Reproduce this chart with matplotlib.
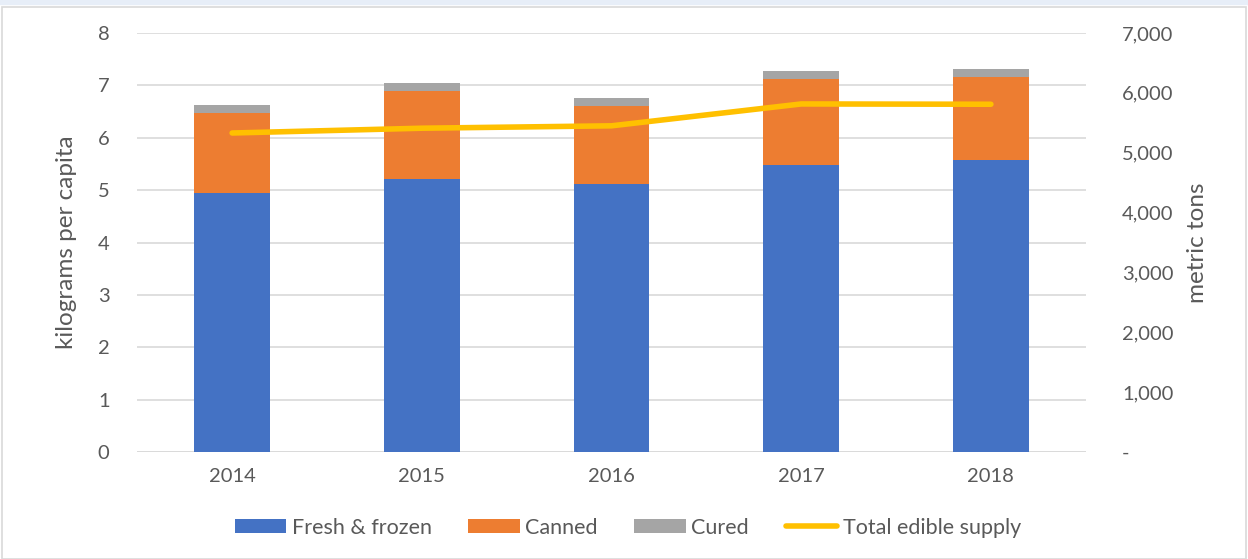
import numpy as np
import matplotlib.pyplot as plt
from matplotlib.ticker import FuncFormatter

plt.rcParams['font.family'] = ['Lato', 'DejaVu Sans']

years = ["2014", "2015", "2016", "2017", "2018"]
fresh_frozen = [4.94, 5.21, 5.11, 5.48, 5.57]
canned = [1.53, 1.68, 1.49, 1.64, 1.59]
cured = [0.15, 0.15, 0.16, 0.15, 0.15]
total_supply = [5330, 5410, 5450, 5815, 5810]

text_col = "#595959"
grid_col = "#d9d9d9"

fig = plt.figure(figsize=(12.48, 5.59), dpi=100)
ax = fig.add_axes([0.11, 0.191, 0.76, 0.75])
ax2 = ax.twinx()

x = np.arange(len(years))
w = 0.4
ax.bar(x, fresh_frozen, w, color="#4472c4", label="Fresh & frozen", zorder=2)
ax.bar(x, canned, w, bottom=fresh_frozen, color="#ed7d31", label="Canned", zorder=2)
bottom2 = np.array(fresh_frozen) + np.array(canned)
ax.bar(x, cured, w, bottom=bottom2, color="#a5a5a5", label="Cured", zorder=2)

ax2.plot(x, total_supply, color="#ffc000", lw=4, solid_capstyle="round",
         label="Total edible supply")

ax.set_xlim(-0.5, len(years) - 0.5)
ax.set_ylim(0, 8)
ax2.set_ylim(0, 7000)
ax.set_yticks(range(0, 9))
ax2.set_yticks(range(0, 7001, 1000))
ax2.yaxis.set_major_formatter(FuncFormatter(lambda v, p: "-" if v == 0 else f"{int(v):,}"))
ax.set_xticks(x)
ax.set_xticklabels(years)

ax.yaxis.grid(True, color=grid_col, lw=1.2, zorder=0)
ax.set_axisbelow(True)
for a in (ax, ax2):
    for s in ["top", "left", "right", "bottom"]:
        a.spines[s].set_visible(False)
    a.tick_params(length=0, colors=text_col, labelsize=14.5)
ax.axhline(0, color=grid_col, lw=1.2, zorder=1)
ax.tick_params(axis="y", pad=20)
ax2.tick_params(axis="y", pad=26)
ax.tick_params(axis="x", pad=11)

ax.set_ylabel("kilograms per capita", color=text_col, fontsize=17.5, labelpad=15)
ax2.set_ylabel("metric tons", color=text_col, fontsize=17.5, labelpad=10)

h1, l1 = ax.get_legend_handles_labels()
h2, l2 = ax2.get_legend_handles_labels()
fig.legend(h1 + h2, l1 + l2, loc="center", bbox_to_anchor=(0.503, 0.056), ncol=4,
           frameon=False, labelcolor=text_col, fontsize=15.5, handlelength=2.4,
           handleheight=0.6, columnspacing=1.7, handletextpad=0.25)

fig.patches.append(plt.Rectangle((0, 0.993), 1, 0.007, transform=fig.transFigure,
                                 color="#e7eef8", zorder=0))
fig.patches.append(plt.Rectangle((0.002, 0), 0.996, 0.987, transform=fig.transFigure,
                                 fill=False, ec="#d9d9d9", lw=1.2, zorder=0))

fig.savefig("out.png", dpi=100)
